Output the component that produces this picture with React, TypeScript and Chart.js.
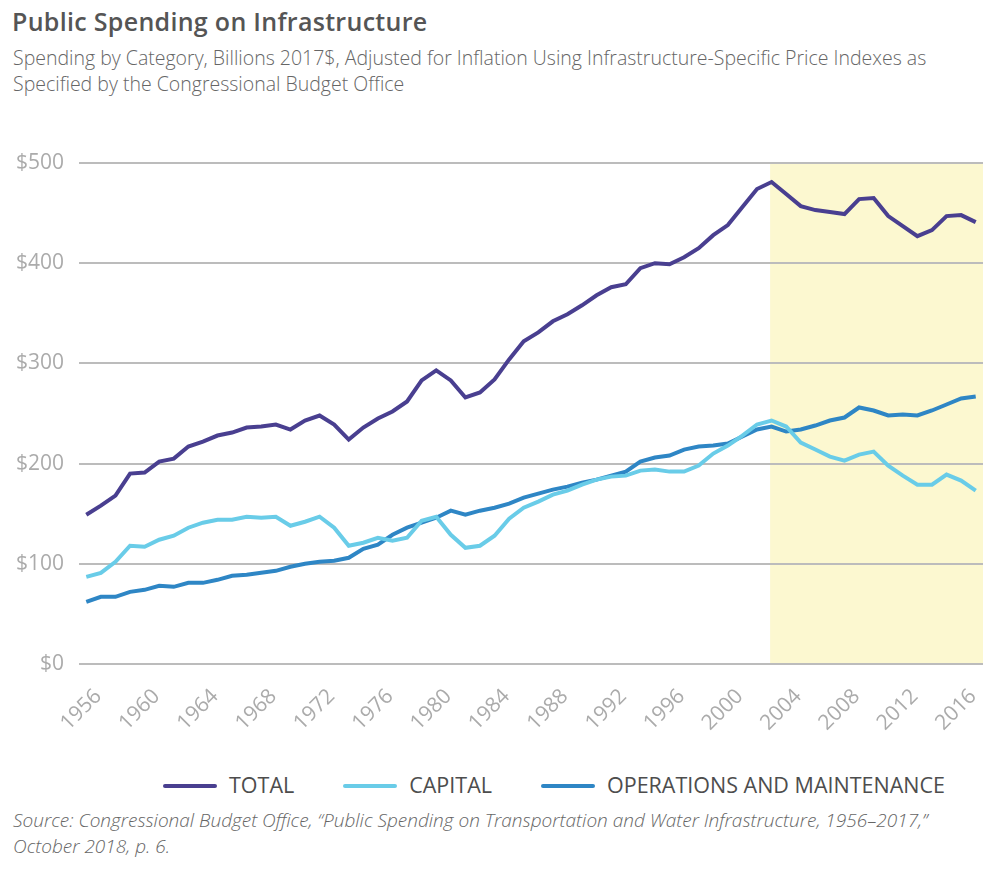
import { useEffect, useRef } from 'react';
import { Chart, registerables } from 'chart.js';

Chart.register(...registerables);

const years: number[] = [];
for (let y = 1956; y <= 2017; y++) years.push(y);

const total = [
  149, 158, 168, 190, 191, 202, 205, 217, 222, 228, 231, 236, 237, 239, 234, 243,
  248, 239, 224, 236, 245, 252, 262, 283, 293, 283, 266, 271, 284, 304, 322, 331,
  342, 349, 358, 368, 376, 379, 395, 400, 399, 406, 415, 428, 438, 456, 474, 481,
  469, 457, 453, 451, 449, 464, 465, 447, 437, 427, 433, 447, 448, 441,
];

const capital = [
  87, 91, 102, 118, 117, 124, 128, 136, 141, 144, 144, 147, 146, 147, 138, 142,
  147, 136, 118, 121, 126, 123, 126, 143, 147, 129, 116, 118, 128, 145, 156, 162,
  169, 173, 179, 184, 187, 188, 193, 194, 192, 192, 198, 210, 218, 228, 239, 243,
  237, 221, 214, 207, 203, 209, 212, 198, 188, 179, 179, 189, 183, 173,
];

const operations = [
  62, 67, 67, 72, 74, 78, 77, 81, 81, 84, 88, 89, 91, 93, 97, 100,
  102, 103, 106, 115, 119, 129, 136, 141, 146, 153, 149, 153, 156, 160, 166, 170,
  174, 177, 181, 184, 188, 192, 202, 206, 208, 214, 217, 218, 220, 227, 234, 237,
  232, 234, 238, 243, 246, 256, 253, 248, 249, 248, 253, 259, 265, 267,
];

const seriesNames = ['TOTAL', 'CAPITAL', 'OPERATIONS AND MAINTENANCE'];
const seriesColors = ['#493f90', '#69cce8', '#2e86c5'];
const yTicks = [0, 100, 200, 300, 400, 500];
const shadeFromYear = 2003;

const FONT = "'Open Sans', sans-serif";

// yellow band behind the recent years
const shadePlugin = {
  id: 'shade',
  beforeDraw(chart: any) {
    const { ctx, chartArea, scales } = chart;
    const x = scales.x;
    const idx = years.indexOf(shadeFromYear);
    const step = x.getPixelForValue(idx) - x.getPixelForValue(idx - 1);
    const left = x.getPixelForValue(idx) - step * 0.1;
    ctx.save();
    ctx.fillStyle = '#fcf8d0';
    ctx.fillRect(left, chartArea.top, chartArea.right - left, chartArea.bottom - chartArea.top);
    ctx.restore();
  },
};

const LineChart = () => {
  const chartRef = useRef<HTMLCanvasElement>(null);

  useEffect(() => {
    if (!chartRef.current) return;
    const ctx = chartRef.current.getContext('2d');
    if (!ctx) return;

    const values = [total, capital, operations];
    const chart = new Chart(ctx, {
      type: 'line',
      data: {
        labels: years.map(String),
        datasets: values.map((data, i) => ({
          label: seriesNames[i],
          data,
          borderColor: seriesColors[i],
          backgroundColor: seriesColors[i],
          borderWidth: 4,
          pointRadius: 0,
          tension: 0,
          fill: false,
        })),
      },
      options: {
        animation: false,
        responsive: true,
        maintainAspectRatio: false,
        layout: { padding: { top: 33, right: 17, left: 0, bottom: 0 } },
        plugins: {
          legend: { display: false },
          tooltip: { enabled: false },
        },
        scales: {
          x: {
            offset: true,
            grid: { display: false },
            border: { display: false },
            ticks: {
              autoSkip: false,
              maxRotation: 45,
              minRotation: 45,
              color: '#ababab',
              padding: 12,
              labelOffset: 12,
              font: { family: FONT, size: 21 },
              callback: (_v: any, i: number) => (years[i] % 4 === 0 ? String(years[i]) : null),
            },
            afterFit: (scale: any) => {
              scale.height = 70;
            },
          },
          y: {
            min: yTicks[0],
            max: yTicks[yTicks.length - 1],
            grid: { color: '#bcbcbc', lineWidth: 2, drawTicks: false },
            border: { display: false },
            ticks: {
              stepSize: 100,
              color: '#ababab',
              padding: 15,
              font: { family: FONT, size: 21 },
              callback: (v: any) => '$' + v,
            },
            afterFit: (scale: any) => {
              scale.width = 79;
            },
          },
        },
      },
      plugins: [shadePlugin],
    });

    return () => {
      chart.destroy();
    };
  }, []);

  return <canvas ref={chartRef} />;
};

const App = () => {
  return (
    <div style={{ position: 'relative', margin: -8, width: 1000, height: 875, fontFamily: FONT }}>
      <div
        style={{
          position: 'absolute', top: 4, left: 12, fontSize: 25, fontWeight: 600,
          letterSpacing: 0.3, color: '#555', whiteSpace: 'nowrap',
        }}
      >
        Public Spending on Infrastructure
      </div>
      <div
        style={{
          position: 'absolute', top: 45, left: 13, fontSize: 19.5, fontWeight: 300,
          lineHeight: '26px', color: '#666', whiteSpace: 'nowrap',
        }}
      >
        Spending by Category, Billions 2017$, Adjusted for Inflation Using Infrastructure-Specific Price Indexes as
        <br />
        Specified by the Congressional Budget Office
      </div>
      <div style={{ position: 'absolute', top: 130, left: 0, width: 1000, height: 604 }}>
        <LineChart />
      </div>
      <div
        style={{
          position: 'absolute', top: 770, left: 163, display: 'flex', alignItems: 'center',
          fontSize: 21.5, color: '#4d4d4d', whiteSpace: 'nowrap',
        }}
      >
        {seriesNames.map((name, i) => (
          <div key={name} style={{ display: 'flex', alignItems: 'center', marginRight: 49 }}>
            <span
              style={{
                display: 'inline-block', width: 54, height: 4, borderRadius: 2,
                background: seriesColors[i], marginRight: 12, marginTop: 2,
              }}
            />
            <span>{name}</span>
          </div>
        ))}
      </div>
      <div
        style={{
          position: 'absolute', top: 807, left: 13, fontSize: 19, fontWeight: 300,
          fontStyle: 'italic', lineHeight: '26px', color: '#666', whiteSpace: 'nowrap',
        }}
      >
        Source: Congressional Budget Office, “Public Spending on Transportation and Water Infrastructure, 1956–2017,”
        <br />
        October 2018, p. 6.
      </div>
    </div>
  );
};

export default App;
